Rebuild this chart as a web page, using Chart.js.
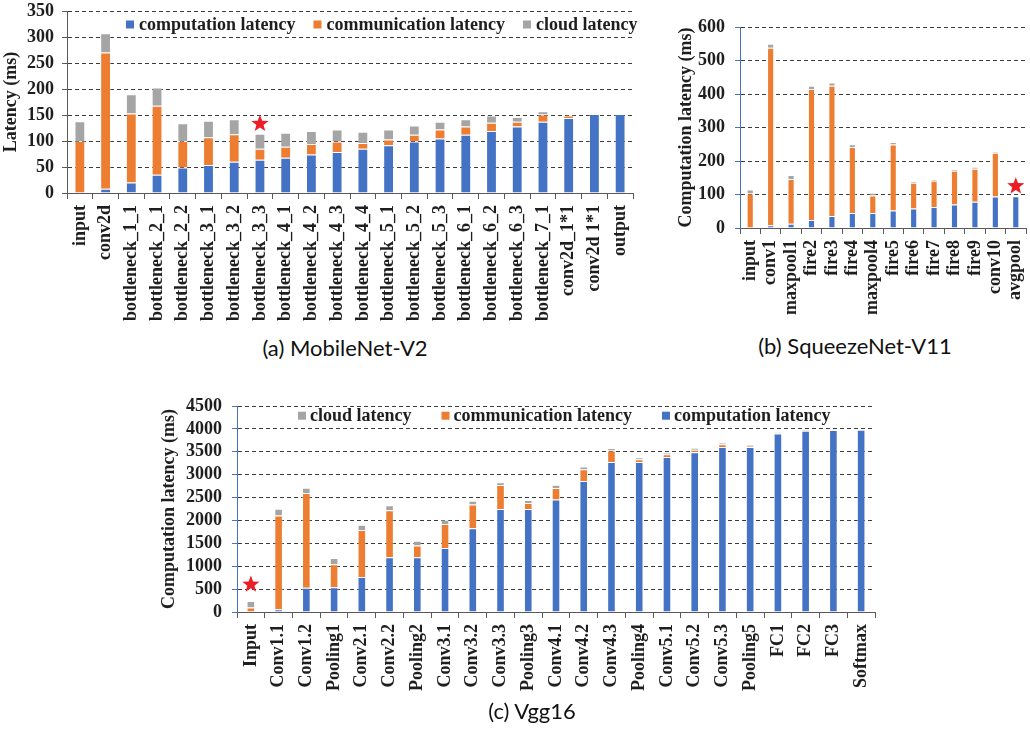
<!DOCTYPE html>
<html>
<head>
<meta charset="utf-8">
<script src="https://cdn.jsdelivr.net/npm/chart.js@4.4.1/dist/chart.umd.min.js"></script>
<style>
  body { margin: 0; background: #fff; width: 1030px; height: 735px; position: relative; overflow: hidden; }
  canvas { position: absolute; }
  .cap { position: absolute; font-family: Lato, "Open Sans", sans-serif; font-size: 22px; color: #111;
         transform: translate(-50%, -50%); white-space: nowrap; }
</style>
</head>
<body>
<canvas id="mobile" width="645" height="330" style="left:0;top:0;width:645px;height:330px"></canvas>
<canvas id="squeeze" width="370" height="330" style="left:660px;top:0;width:370px;height:330px"></canvas>
<canvas id="vgg" width="735" height="340" style="left:155px;top:395px;width:735px;height:340px"></canvas>
<div class="cap" style="left:345px;top:347px">(a) MobileNet-V2</div>
<div class="cap" style="left:855px;top:345px">(b) SqueezeNet-V11</div>
<div class="cap" style="left:532px;top:710px">(c) Vgg16</div>
<script>
// ---- MobileNet-V2 (ms) ----
const mobileLabels = ['input', 'conv2d', 'bottleneck_1_1', 'bottleneck_2_1', 'bottleneck_2_2',
  'bottleneck_3_1', 'bottleneck_3_2', 'bottleneck_3_3', 'bottleneck_4_1', 'bottleneck_4_2',
  'bottleneck_4_3', 'bottleneck_4_4', 'bottleneck_5_1', 'bottleneck_5_2', 'bottleneck_5_3',
  'bottleneck_6_1', 'bottleneck_6_2', 'bottleneck_6_3', 'bottleneck_7_1', 'conv2d_1*1',
  'conv2d 1*1', 'output'];
const mobileCompute = [0, 8, 20, 35, 49, 54, 60, 64, 68, 74, 79, 85, 92, 99, 105, 112, 119, 128, 137, 144, 152, 152];
const mobileComm    = [100, 262, 133, 133, 51, 53, 53, 21, 21, 20, 20, 11, 11, 13, 17, 16, 16, 9, 14, 5, 0, 0];
const mobileCloud   = [38, 37, 37, 35, 34, 32, 29, 29, 27, 25, 23, 22, 19, 18, 15, 14, 14, 9, 6, 1, 0, 0];
const mobileYTicks  = [0, 50, 100, 150, 200, 250, 300, 350];
const mobileStar    = { label: 'bottleneck_3_3', value: 133 };

// ---- SqueezeNet-V11 (ms) ----
const squeezeLabels = ['input', 'conv1', 'maxpool1', 'fire2', 'fire3', 'fire4', 'maxpool4',
  'fire5', 'fire6', 'fire7', 'fire8', 'fire9', 'conv10', 'avgpool'];
const squeezeCompute = [0, 8, 13, 24, 36, 45, 45, 52, 58, 63, 70, 78, 94, 95];
const squeezeComm    = [103, 530, 133, 391, 389, 197, 52, 197, 77, 78, 101, 99, 131, 0];
const squeezeCloud   = [12, 12, 12, 10, 9, 8, 8, 8, 5, 5, 4, 5, 2, 0];
const squeezeYTicks  = [0, 100, 200, 300, 400, 500, 600];
const squeezeStar    = { label: 'avgpool', value: 125 };

// ---- Vgg16 (ms) ----
const vggLabels = ['Input', 'Conv1.1', 'Conv1.2', 'Pooling1', 'Conv2.1', 'Conv2.2', 'Pooling2',
  'Conv3.1', 'Conv3.2', 'Conv3.3', 'Pooling3', 'Conv4.1', 'Conv4.2', 'Conv4.3', 'Pooling4',
  'Conv5.1', 'Conv5.2', 'Conv5.3', 'Pooling5', 'FC1', 'FC2', 'FC3', 'Softmax'];
const vggCompute = [0, 60, 530, 540, 765, 1195, 1195, 1400, 1830, 2250, 2250, 2455, 2860, 3275,
  3275, 3385, 3490, 3605, 3605, 3900, 3960, 3975, 3980];
const vggComm    = [100, 2050, 2070, 505, 1025, 1025, 260, 520, 520, 525, 130, 255, 260, 255,
  60, 60, 55, 60, 20, 10, 15, 10, 5];
const vggCloud   = [140, 145, 115, 135, 115, 110, 100, 95, 80, 60, 65, 70, 60, 50,
  45, 35, 45, 35, 20, 10, 10, 5, 5];
const vggYTicks  = [0, 500, 1000, 1500, 2000, 2500, 3000, 3500, 4000, 4500];
const vggStar    = { label: 'Input', value: 600 };

const SERIES_NAMES = ['computation latency', 'communication latency', 'cloud latency'];
const BLUE = '#4472C4', ORANGE = '#ED7D31', GRAY = '#A5A5A5';
const SERIF = '"Liberation Serif", "Times New Roman", serif';
const INK = '#1e1e1e';

// Legend drawn inside the plot: square swatch + bold serif label.
const boxLegend = {
  id: 'boxLegend',
  afterDraw(chart, args, opts) {
    if (!opts || !opts.order) return;
    const ctx = chart.ctx;
    ctx.save();
    ctx.font = 'bold 18px ' + SERIF;
    ctx.textBaseline = 'middle';
    let x = opts.x;
    opts.order.forEach(i => {
      const ds = chart.data.datasets[i];
      ctx.fillStyle = ds.backgroundColor;
      ctx.fillRect(x, opts.y - 4, 8, 8);
      x += 8 + opts.boxGap;
      ctx.fillStyle = INK;
      ctx.fillText(ds.label, x, opts.y + 1);
      x += ctx.measureText(ds.label).width + opts.itemGap;
    });
    ctx.restore();
  }
};

// Red five-point star marking the chosen partition point.
const starMark = {
  id: 'starMark',
  afterDatasetsDraw(chart, args, opts) {
    if (!opts || opts.label === undefined) return;
    const idx = chart.data.labels.indexOf(opts.label);
    const cx = chart.scales.x.getPixelForValue(idx);
    const cy = chart.scales.y.getPixelForValue(opts.value);
    const R = opts.radius, r = R * 0.42;
    const ctx = chart.ctx;
    ctx.save();
    ctx.beginPath();
    for (let k = 0; k < 10; k++) {
      const rad = k % 2 === 0 ? R : r;
      const a = -Math.PI / 2 + k * Math.PI / 5;
      const px = cx + rad * Math.cos(a), py = cy + rad * Math.sin(a);
      if (k === 0) ctx.moveTo(px, py); else ctx.lineTo(px, py);
    }
    ctx.closePath();
    ctx.fillStyle = '#EE1C25';
    ctx.fill();
    ctx.restore();
  }
};

function buildChart(canvasId, d, frame) {
  const datasets = [d.compute, d.comm, d.cloud].map((vals, i) => ({
    label: SERIES_NAMES[i],
    data: vals,
    backgroundColor: [BLUE, ORANGE, GRAY][i],
    borderColor: 'rgba(255,255,255,0.35)',
    borderWidth: 1,
    barPercentage: frame.bar,
    categoryPercentage: 1
  }));
  return new Chart(document.getElementById(canvasId), {
    type: 'bar',
    data: { labels: d.labels, datasets },
    plugins: [boxLegend, starMark],
    options: {
      responsive: false,
      animation: false,
      devicePixelRatio: 1,
      layout: { padding: { top: frame.top, right: frame.right, left: 0, bottom: 0 } },
      plugins: {
        legend: { display: false },
        tooltip: { enabled: false },
        boxLegend: frame.legend || {},
        starMark: { label: d.star.label, value: d.star.value, radius: 9 }
      },
      scales: {
        x: {
          stacked: true,
          offset: true,
          grid: { display: true, drawOnChartArea: false, drawTicks: true, tickLength: 6,
                  tickColor: '#595959', offset: true },
          border: { display: true, color: '#595959', width: 1 },
          ticks: { autoSkip: false, minRotation: 90, maxRotation: 90, padding: 6, color: INK,
                   font: { family: SERIF, size: 18, weight: 'bold' } },
          afterFit(s) { s.height = frame.xHeight; s.paddingLeft = 0; s.paddingRight = 0; }
        },
        y: {
          stacked: true,
          min: d.yTicks[0],
          max: d.yTicks[d.yTicks.length - 1],
          afterBuildTicks(s) { s.ticks = d.yTicks.map(v => ({ value: v })); },
          grid: { color: '#3c3c3c', lineWidth: 1, drawTicks: true, tickLength: 5,
                  tickColor: frame.axisColor, tickBorderDash: [] },
          border: { display: true, color: frame.axisColor, width: 1, dash: [4, 3] },
          ticks: { autoSkip: false, padding: frame.tickPad, color: INK,
                   callback: v => String(v),
                   font: { family: SERIF, size: 18, weight: 'bold' } },
          title: { display: true, text: d.title, color: INK, padding: { top: frame.titlePad, bottom: 0 },
                   font: { family: SERIF, size: 18, weight: 'bold', lineHeight: 1.2 } },
          afterFit(s) { s.width = frame.yWidth; s.paddingTop = 0; s.paddingBottom = 0; }
        }
      }
    }
  });
}

buildChart('mobile',
  { labels: mobileLabels, compute: mobileCompute, comm: mobileComm, cloud: mobileCloud,
    yTicks: mobileYTicks, star: mobileStar, title: 'Latency (ms)' },
  { top: 11, right: 12, yWidth: 67, xHeight: 137, bar: 0.42, tickPad: 8, titlePad: 1,
    axisColor: '#595959', legend: { order: [0, 1, 2], x: 126, y: 24.5, boxGap: 5, itemGap: 18 } });

buildChart('squeeze',
  { labels: squeezeLabels, compute: squeezeCompute, comm: squeezeComm, cloud: squeezeCloud,
    yTicks: squeezeYTicks, star: squeezeStar, title: 'Computation latency (ms)' },
  { top: 27, right: 4, yWidth: 80, xHeight: 102, bar: 0.35, tickPad: 10, titlePad: 16,
    axisColor: '#4472C4' });

buildChart('vgg',
  { labels: vggLabels, compute: vggCompute, comm: vggComm, cloud: vggCloud,
    yTicks: vggYTicks, star: vggStar, title: 'Computation latency (ms)' },
  { top: 11, right: 15, yWidth: 82, xHeight: 123, bar: 0.31, tickPad: 10, titlePad: 4,
    axisColor: '#4472C4', legend: { order: [2, 1, 0], x: 143, y: 20.7, boxGap: 4, itemGap: 30 } });
</script>
</body>
</html>
